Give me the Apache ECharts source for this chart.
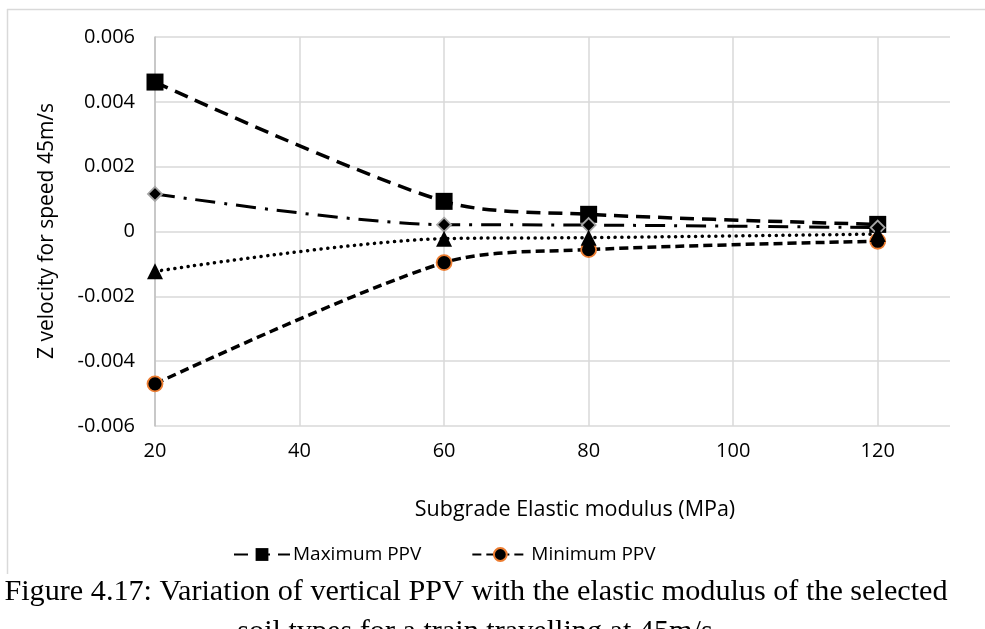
<!DOCTYPE html>
<html>
<head>
<meta charset="utf-8">
<script src="https://cdn.jsdelivr.net/npm/echarts@6/dist/echarts.min.js"></script>
<style>
html,body{margin:0;padding:0;background:#fff;}
#chart{width:985px;height:629px;}
</style>
</head>
<body>
<div id="chart"></div>
<script>
// ---- data ----
const modulus = [20, 60, 80, 120];
const maxPPV = [0.00461, 0.00093, 0.00053, 0.00022];
const minPPV = [-0.00470, -0.00096, -0.00056, -0.00030];
const diamondSeries = [0.00116, 0.00021, 0.00020, 0.00012];
const triangleSeries = [-0.00123, -0.00022, -0.00019, -0.00008];
const legendNames = ['Maximum PPV', 'Minimum PPV'];
const xTitle = 'Subgrade Elastic modulus (MPa)';
const yTitle = 'Z velocity for speed 45m/s';
const captionLine1 = 'Figure 4.17: Variation of vertical PPV with the elastic modulus of the selected';
const captionLine2 = 'soil types for a train travelling at 45m/s';

function pairs(xs, ys) { return xs.map((x, i) => [x, ys[i]]); }

const chart = echarts.init(document.getElementById('chart'), null, {renderer: 'canvas'});
const font = 'Open Sans';
const gridColor = '#d9d9d9';

chart.setOption({
  animation: false,
  backgroundColor: '#ffffff',
  grid: {left: 155, right: 35, top: 37, bottom: 203, containLabel: false},
  xAxis: {
    type: 'value', min: 20, max: 130, interval: 20,
    axisLine: {show: false},
    axisTick: {show: false},
    axisLabel: {fontFamily: font, fontSize: 20, color: '#000', margin: 15, showMaxLabel: false},
    splitLine: {show: true, showMaxLine: false, lineStyle: {color: gridColor, width: 1.5}}
  },
  yAxis: {
    type: 'value', min: -0.006, max: 0.006, interval: 0.002,
    axisLine: {show: true, lineStyle: {color: '#bfbfbf', width: 1.5}},
    axisTick: {show: false},
    axisLabel: {fontFamily: font, fontSize: 20, color: '#000', margin: 20,
      formatter: v => Math.abs(v) < 1e-12 ? '0' : v.toFixed(3)},
    splitLine: {show: true, lineStyle: {color: gridColor, width: 1.5}}
  },
  legend: {
    data: legendNames,
    left: 228, top: 540,
    itemWidth: 56, itemHeight: 16, itemGap: 50,
    textStyle: {fontFamily: font, fontSize: 19, color: '#000', padding: [0, 0, 0, -2]}
  },
  series: [
    {
      name: 'Maximum PPV', type: 'line', smooth: 0.3,
      data: pairs(modulus, maxPPV),
      symbol: 'rect', symbolSize: 17,
      itemStyle: {color: '#000'},
      lineStyle: {color: '#000', width: 3.5, type: [14, 8]}
    },
    {
      name: 'Minimum PPV', type: 'line', smooth: 0.3,
      data: pairs(modulus, minPPV),
      symbol: 'circle', symbolSize: 15,
      itemStyle: {color: '#000', borderColor: '#ed7d31', borderWidth: 1.8},
      lineStyle: {color: '#000', width: 3.5, type: [9, 5]}
    },
    {
      name: 'Series 3', type: 'line', smooth: 0.3,
      data: pairs(modulus, diamondSeries),
      symbol: 'diamond', symbolSize: 14,
      itemStyle: {color: '#000', borderColor: '#a5a5a5', borderWidth: 1.8},
      lineStyle: {color: '#000', width: 3, type: [20, 9, 3, 9]}
    },
    {
      name: 'Series 4', type: 'line', smooth: 0.3,
      data: pairs(modulus, triangleSeries),
      symbol: 'triangle', symbolSize: 16,
      itemStyle: {color: '#000'},
      lineStyle: {color: '#000', width: 3.5, type: [0.1, 6.6], cap: 'round'}
    }
  ],
  graphic: [
    {type: 'line', silent: true, shape: {x1: 7, y1: 9.5, x2: 985, y2: 9.5}, style: {stroke: gridColor, lineWidth: 1.5}},
    {type: 'line', silent: true, shape: {x1: 7.5, y1: 9, x2: 7.5, y2: 574}, style: {stroke: gridColor, lineWidth: 1.5}},
    {type: 'text', silent: true, x: 575, y: 510,
      style: {text: xTitle, fontFamily: font, fontSize: 21.5, fill: '#000', align: 'center', verticalAlign: 'middle'}},
    {type: 'text', silent: true, x: 47, y: 231, rotation: Math.PI / 2,
      style: {text: yTitle, fontFamily: font, fontSize: 21, fill: '#000', align: 'center', verticalAlign: 'middle'}},
    {type: 'text', silent: true, x: 476, y: 592,
      style: {text: captionLine1, fontFamily: 'Liberation Serif', fontSize: 30.2, fill: '#000', align: 'center', verticalAlign: 'middle'}},
    {type: 'text', silent: true, x: 475, y: 632,
      style: {text: captionLine2, fontFamily: 'Liberation Serif', fontSize: 30.2, fill: '#000', align: 'center', verticalAlign: 'middle'}}
  ]
});
</script>
</body>
</html>
